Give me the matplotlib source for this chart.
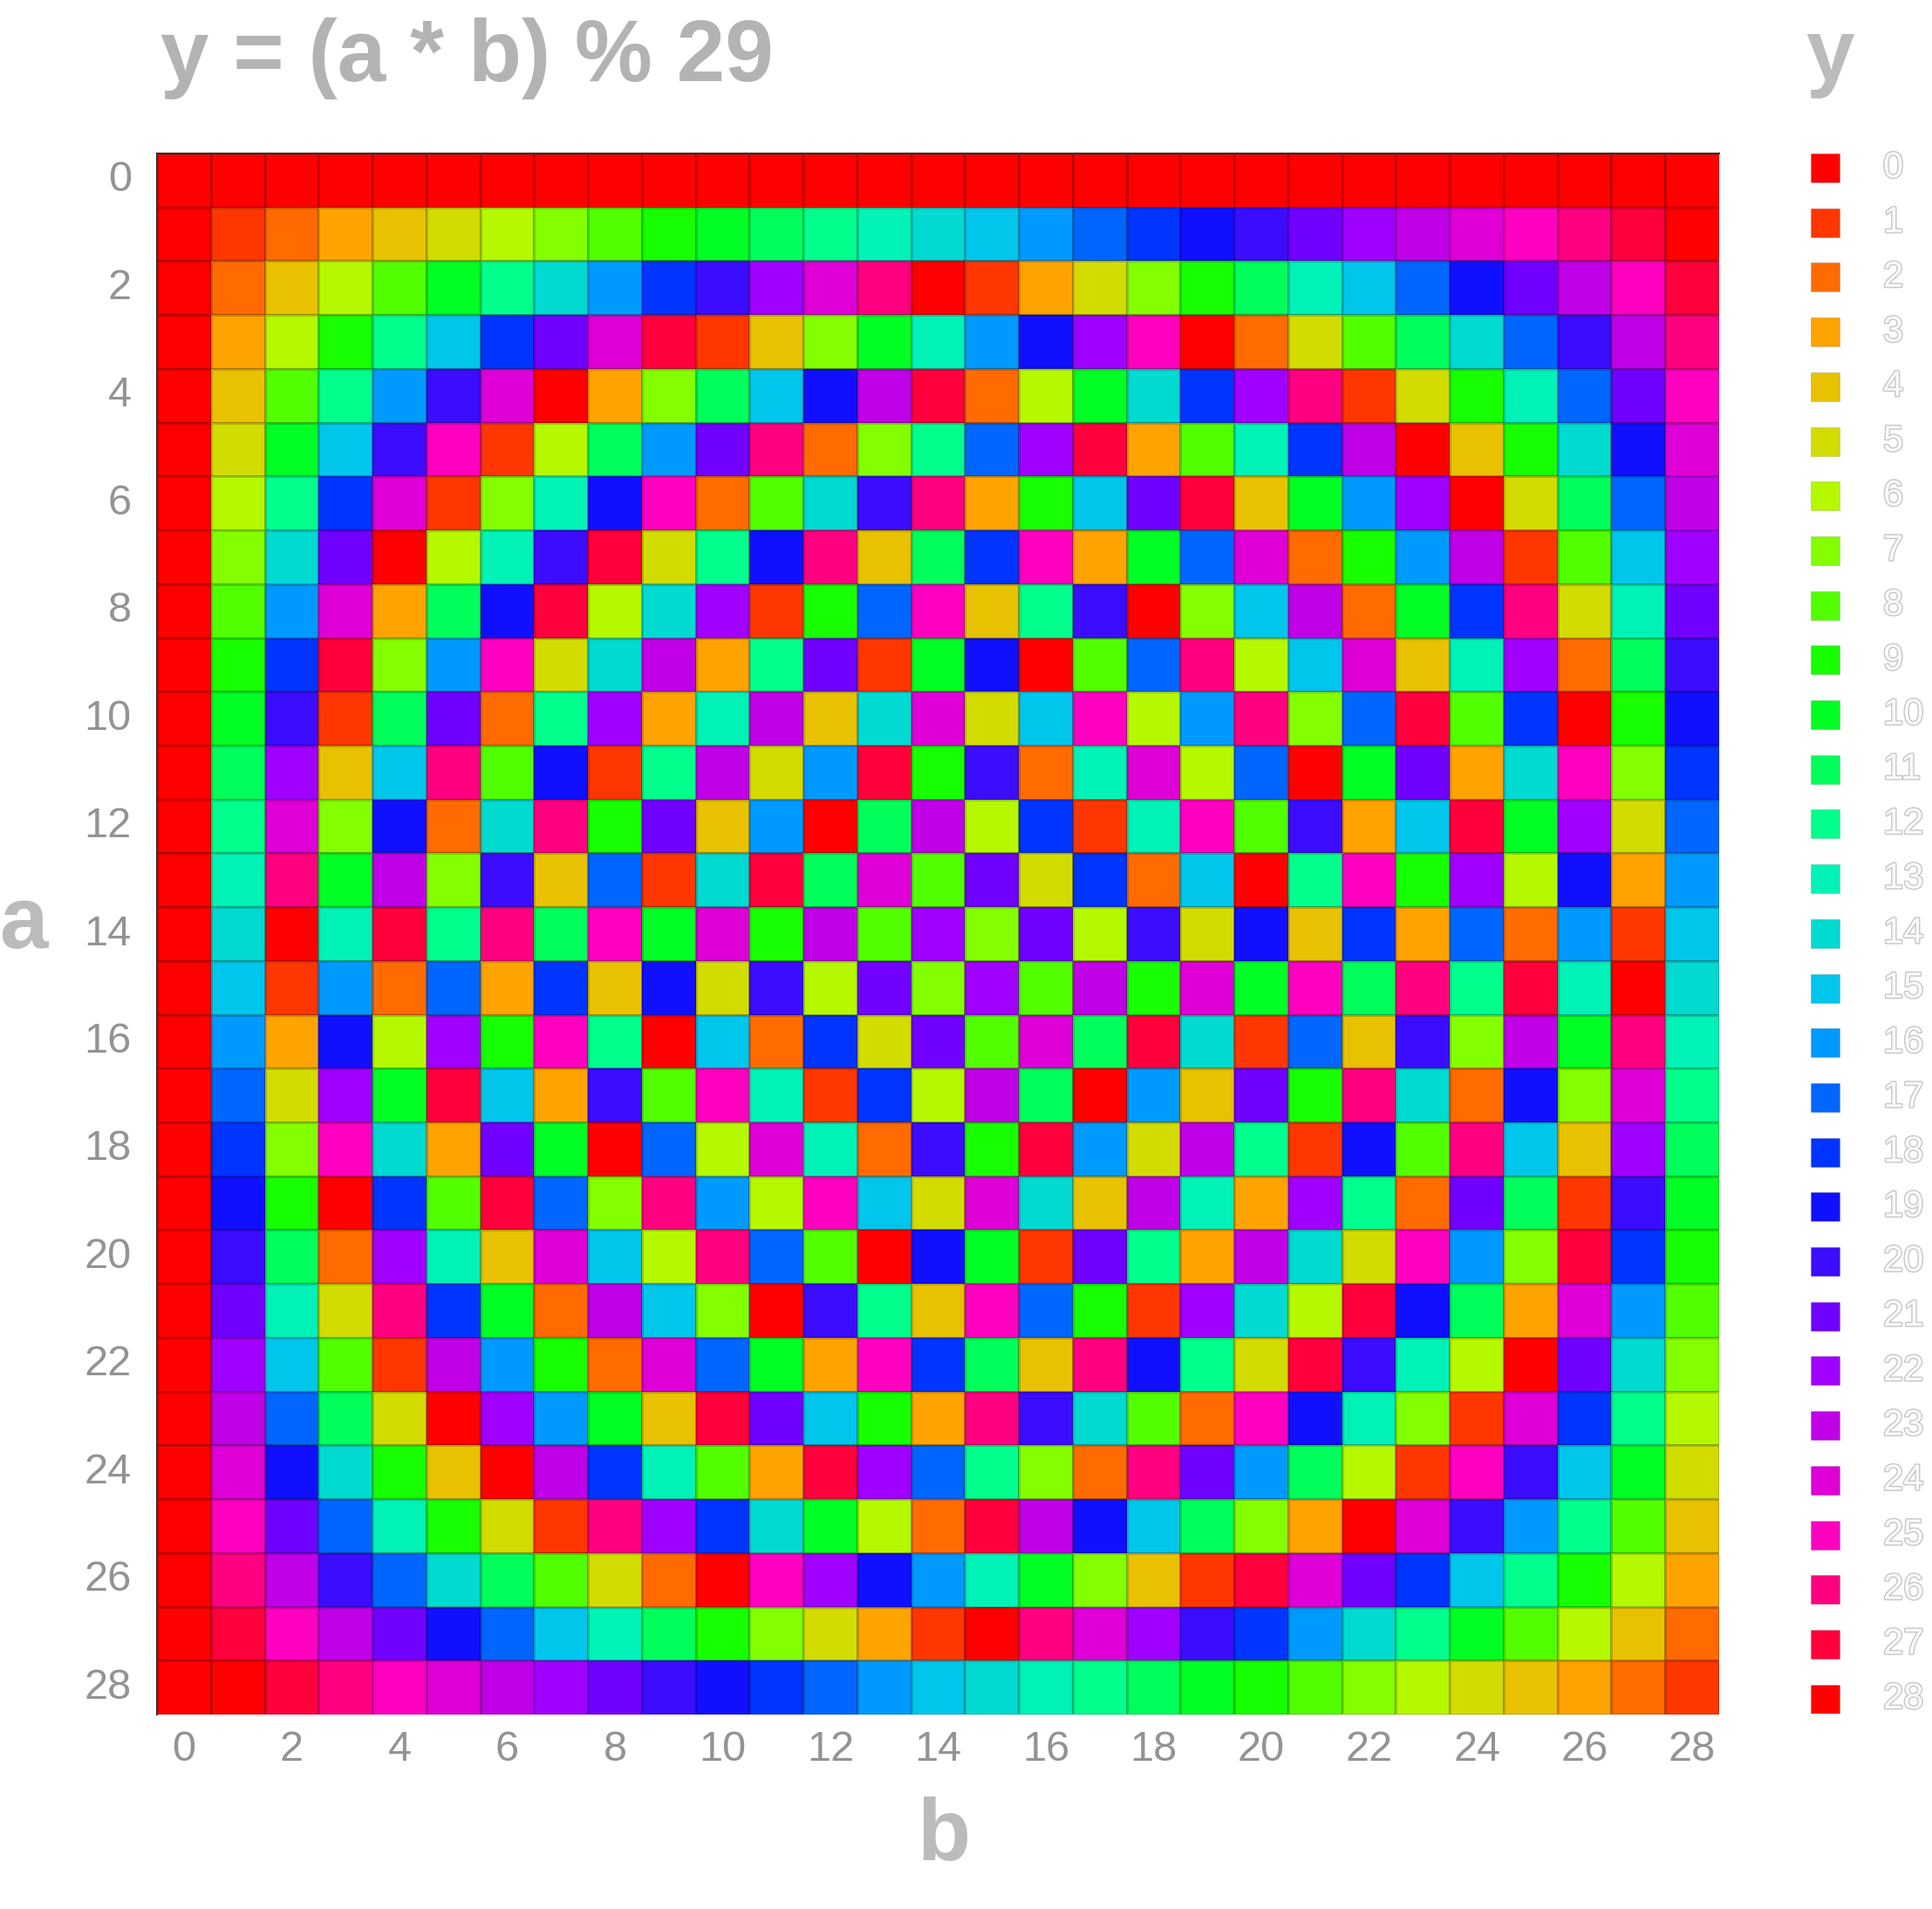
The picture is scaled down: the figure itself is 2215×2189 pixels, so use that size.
import numpy as np
import matplotlib
matplotlib.use("Agg")
import matplotlib.pyplot as plt
from matplotlib.colors import ListedColormap, BoundaryNorm
from matplotlib.patches import Rectangle
import matplotlib.patheffects as pe

plt.rcParams['font.family'] = ['Liberation Sans', 'DejaVu Sans']

# ---------------- data ----------------
title = "y = (a * b) % 29"
a_values = list(range(29))   # rows
b_values = list(range(29))   # columns
y_levels = list(range(29))   # legend categories
tick_values = list(range(0, 29, 2))

row_00 = [0]*29
row_01 = [0,1,2,3,4,5,6,7,8,9,10,11,12,13,14,15,16,17,18,19,20,21,22,23,24,25,26,27,28]
row_02 = [0,2,4,6,8,10,12,14,16,18,20,22,24,26,28,1,3,5,7,9,11,13,15,17,19,21,23,25,27]
row_03 = [0,3,6,9,12,15,18,21,24,27,1,4,7,10,13,16,19,22,25,28,2,5,8,11,14,17,20,23,26]
row_04 = [0,4,8,12,16,20,24,28,3,7,11,15,19,23,27,2,6,10,14,18,22,26,1,5,9,13,17,21,25]
row_05 = [0,5,10,15,20,25,1,6,11,16,21,26,2,7,12,17,22,27,3,8,13,18,23,28,4,9,14,19,24]
row_06 = [0,6,12,18,24,1,7,13,19,25,2,8,14,20,26,3,9,15,21,27,4,10,16,22,28,5,11,17,23]
row_07 = [0,7,14,21,28,6,13,20,27,5,12,19,26,4,11,18,25,3,10,17,24,2,9,16,23,1,8,15,22]
row_08 = [0,8,16,24,3,11,19,27,6,14,22,1,9,17,25,4,12,20,28,7,15,23,2,10,18,26,5,13,21]
row_09 = [0,9,18,27,7,16,25,5,14,23,3,12,21,1,10,19,28,8,17,26,6,15,24,4,13,22,2,11,20]
row_10 = [0,10,20,1,11,21,2,12,22,3,13,23,4,14,24,5,15,25,6,16,26,7,17,27,8,18,28,9,19]
row_11 = [0,11,22,4,15,26,8,19,1,12,23,5,16,27,9,20,2,13,24,6,17,28,10,21,3,14,25,7,18]
row_12 = [0,12,24,7,19,2,14,26,9,21,4,16,28,11,23,6,18,1,13,25,8,20,3,15,27,10,22,5,17]
row_13 = [0,13,26,10,23,7,20,4,17,1,14,27,11,24,8,21,5,18,2,15,28,12,25,9,22,6,19,3,16]
row_14 = [0,14,28,13,27,12,26,11,25,10,24,9,23,8,22,7,21,6,20,5,19,4,18,3,17,2,16,1,15]
row_15 = [0,15,1,16,2,17,3,18,4,19,5,20,6,21,7,22,8,23,9,24,10,25,11,26,12,27,13,28,14]
row_16 = [0,16,3,19,6,22,9,25,12,28,15,2,18,5,21,8,24,11,27,14,1,17,4,20,7,23,10,26,13]
row_17 = [0,17,5,22,10,27,15,3,20,8,25,13,1,18,6,23,11,28,16,4,21,9,26,14,2,19,7,24,12]
row_18 = [0,18,7,25,14,3,21,10,28,17,6,24,13,2,20,9,27,16,5,23,12,1,19,8,26,15,4,22,11]
row_19 = [0,19,9,28,18,8,27,17,7,26,16,6,25,15,5,24,14,4,23,13,3,22,12,2,21,11,1,20,10]
row_20 = [0,20,11,2,22,13,4,24,15,6,26,17,8,28,19,10,1,21,12,3,23,14,5,25,16,7,27,18,9]
row_21 = [0,21,13,5,26,18,10,2,23,15,7,28,20,12,4,25,17,9,1,22,14,6,27,19,11,3,24,16,8]
row_22 = [0,22,15,8,1,23,16,9,2,24,17,10,3,25,18,11,4,26,19,12,5,27,20,13,6,28,21,14,7]
row_23 = [0,23,17,11,5,28,22,16,10,4,27,21,15,9,3,26,20,14,8,2,25,19,13,7,1,24,18,12,6]
row_24 = [0,24,19,14,9,4,28,23,18,13,8,3,27,22,17,12,7,2,26,21,16,11,6,1,25,20,15,10,5]
row_25 = [0,25,21,17,13,9,5,1,26,22,18,14,10,6,2,27,23,19,15,11,7,3,28,24,20,16,12,8,4]
row_26 = [0,26,23,20,17,14,11,8,5,2,28,25,22,19,16,13,10,7,4,1,27,24,21,18,15,12,9,6,3]
row_27 = [0,27,25,23,21,19,17,15,13,11,9,7,5,3,1,28,26,24,22,20,18,16,14,12,10,8,6,4,2]
row_28 = [0,28,27,26,25,24,23,22,21,20,19,18,17,16,15,14,13,12,11,10,9,8,7,6,5,4,3,2,1]

rows = [row_00, row_01, row_02, row_03, row_04, row_05, row_06, row_07, row_08, row_09,
        row_10, row_11, row_12, row_13, row_14, row_15, row_16, row_17, row_18, row_19,
        row_20, row_21, row_22, row_23, row_24, row_25, row_26, row_27, row_28]

palette = ['#ff0000', '#ff3600', '#ff6b00', '#ffa300', '#e8c200', '#d3dc00', '#b6f800',
           '#84ff00', '#52ff00', '#17ff00', '#00ff24', '#00ff5b', '#00ff8c', '#00f2b6',
           '#00dad0', '#00c6ec', '#009aff', '#0066ff', '#0034ff', '#1010ff', '#3c0cff',
           '#7000ff', '#a000ff', '#c000e6', '#de00d6', '#ff00c0', '#ff0080', '#ff003c',
           '#ff0000']

# ---------------- figure ----------------
W, H = 2215, 2189
fig = plt.figure(figsize=(W/100, H/100), dpi=100)
fig.patch.set_facecolor('white')

L, R, T, B = 180, 1971, 176, 1966
ax = fig.add_axes([L/W, 1-B/H, (R-L)/W, (B-T)/H])

Z = np.array(rows)
cmap = ListedColormap(palette)
norm = BoundaryNorm(np.arange(-0.5, len(palette)+0.5, 1), cmap.N)
xe = np.arange(len(b_values)+1)
ye = np.arange(len(a_values)+1)
ax.pcolormesh(xe, ye, Z, cmap=cmap, norm=norm, edgecolors=(0, 0, 0, 0.18), linewidth=1.0)
ax.set_xlim(0, len(b_values))
ax.set_ylim(len(a_values), 0)

ax.set_xticks([t + 0.5 for t in tick_values])
ax.set_xticklabels([str(t) for t in tick_values])
ax.set_yticks([t + 0.5 for t in tick_values])
ax.set_yticklabels([str(t) for t in tick_values])
ax.tick_params(axis='both', length=0, labelsize=35, labelcolor='#939393')
ax.tick_params(axis='x', pad=13)
ax.tick_params(axis='y', pad=21)
for lab in ax.get_yticklabels():
    lab.set_va('center')

for s in ['right', 'bottom']:
    ax.spines[s].set_visible(False)
for s in ['top', 'left']:
    ax.spines[s].set_color('#333333')
    ax.spines[s].set_linewidth(1.5)
    ax.spines[s].set_zorder(5)

# titles and axis labels
fig.text(184/W, 1-93/H, title, fontsize=72, fontweight='bold', color='#b3b3b3',
         ha='left', va='baseline')
fig.text(27/W, 1-1087/H, 'a', fontsize=72, fontweight='bold', color='#bbbbbb',
         ha='center', va='baseline')
fig.text(1082/W, 1-2133/H, 'b', fontsize=72, fontweight='bold', color='#bbbbbb',
         ha='center', va='baseline')
fig.text(2098/W, 1-92/H, 'y', fontsize=72, fontweight='bold', color='#bbbbbb',
         ha='center', va='baseline')

# legend
step, sq = 62.7, 33
leg_top, leg_left = 176, 2076
leg_h = step*(len(y_levels)-1) + sq
lax = fig.add_axes([leg_left/W, 1-(leg_top+leg_h)/H, (W-leg_left)/W, leg_h/H])
lax.set_xlim(0, W-leg_left)
lax.set_ylim(leg_h, 0)
lax.axis('off')
for i, lev in enumerate(y_levels):
    lax.add_patch(Rectangle((0, i*step), sq, sq, facecolor=palette[lev],
                            edgecolor=(0, 0, 0, 0.12), linewidth=0.8))
    lax.text(83, i*step + sq/2, str(lev), fontsize=30, color='#fafafa',
             ha='left', va='center',
             path_effects=[pe.withStroke(linewidth=2.0, foreground='#c6c6c6')])

fig.savefig('out.png', dpi=100, facecolor='white')
